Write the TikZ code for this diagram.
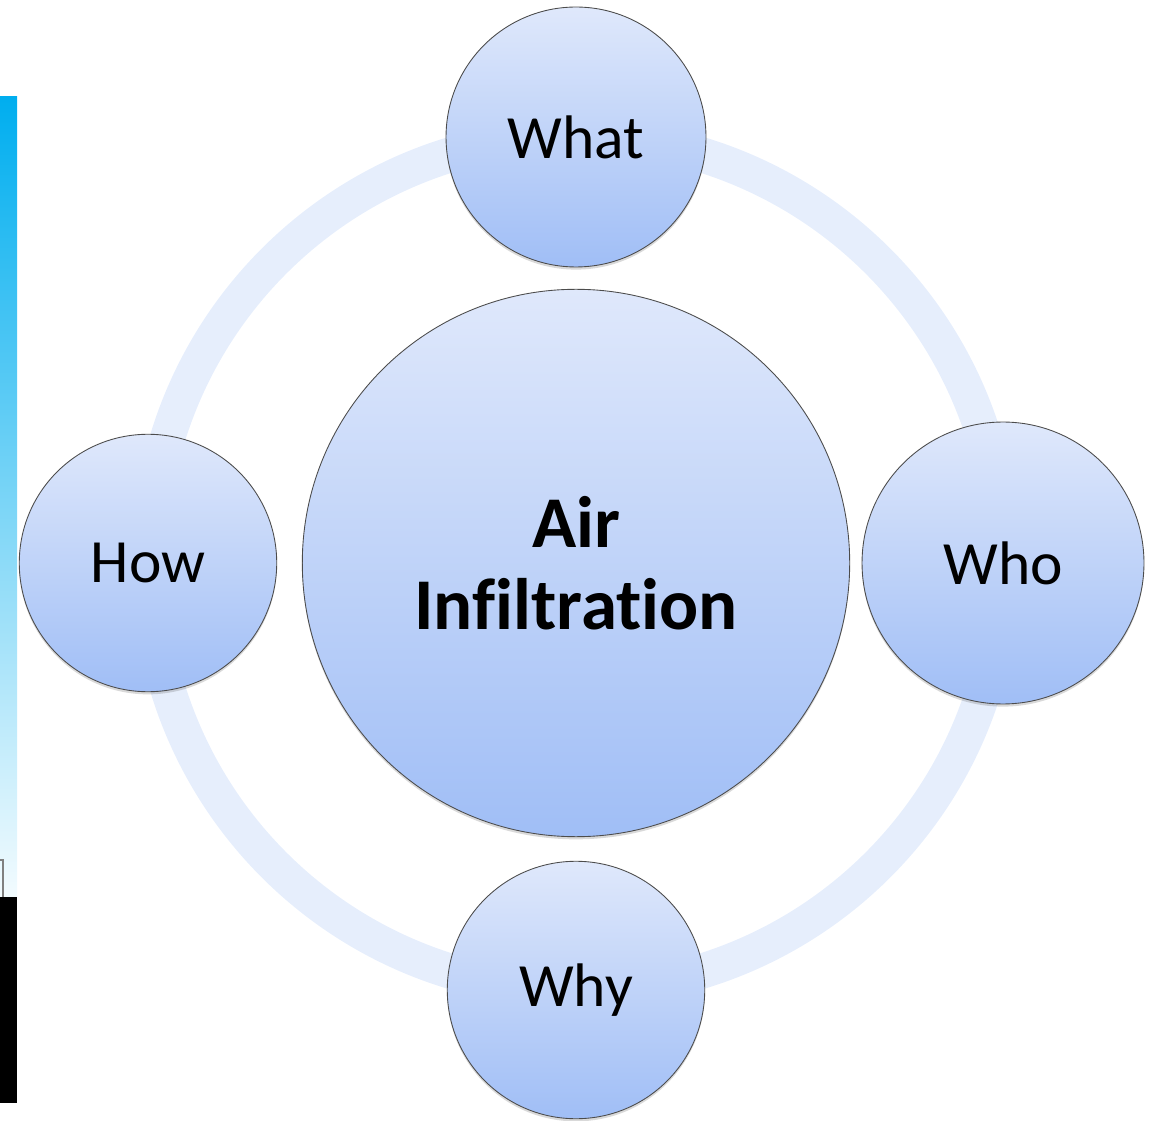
\documentclass[tikz,border=0pt]{standalone}
\usepackage{fontspec}
\setmainfont{Carlito}[Ligatures=NoCommon]
\usepackage{tikz}
\usetikzlibrary{shadows}
\definecolor{bubtop}{RGB}{223,232,251}
\definecolor{bubbot}{RGB}{160,190,246}
\definecolor{ringcol}{RGB}{230,238,252}
\definecolor{stripcol}{RGB}{0,174,239}
\begin{document}
\begin{tikzpicture}[
    x=0.02cm, y=-0.02cm,
    bubble/.style={circle, draw=black!70, line width=0.5pt, top color=bubtop, bottom color=bubbot,
                   drop shadow={shadow xshift=0pt, shadow yshift=-1.5pt, opacity=0.25, fill=black!60},
                   inner sep=0pt, font=\fontsize{35}{40}\selectfont},
    hub/.style={bubble, minimum size=10.95cm, align=center, font=\fontsize{41.5}{47}\selectfont\bfseries},
    spoke/.style={bubble, minimum size=5.2cm},
    ring/.style={draw=ringcol, line width=20pt},
  ]
    \useasboundingbox (0,0) rectangle (1153,1121);
    % Side strip
    \shade[top color=stripcol, middle color=stripcol!55, bottom color=stripcol!5] (0,97) rectangle (17,897);
    \draw[black!50, line width=0.6pt] (0,860) -- (3,860) -- (3,897);
    \fill[black] (0,897) rectangle (17,1103);
    % Ring
    \coordinate (mid) at (576,563);
    \draw[ring] (mid) circle[radius=427];
    % Hub
    \node[hub] (air) at (mid) {Air\\Infiltration};
    % Spokes
    \node[spoke] (what) at (576,137) {What};
    \node[spoke, minimum size=5.64cm] (who) at (1003,563) {Who};
    \node[spoke, minimum size=5.15cm] (why) at (576,990) {Why};
    \node[spoke, minimum size=5.15cm] (how) at (148,563) {How};
\end{tikzpicture}
\end{document}
